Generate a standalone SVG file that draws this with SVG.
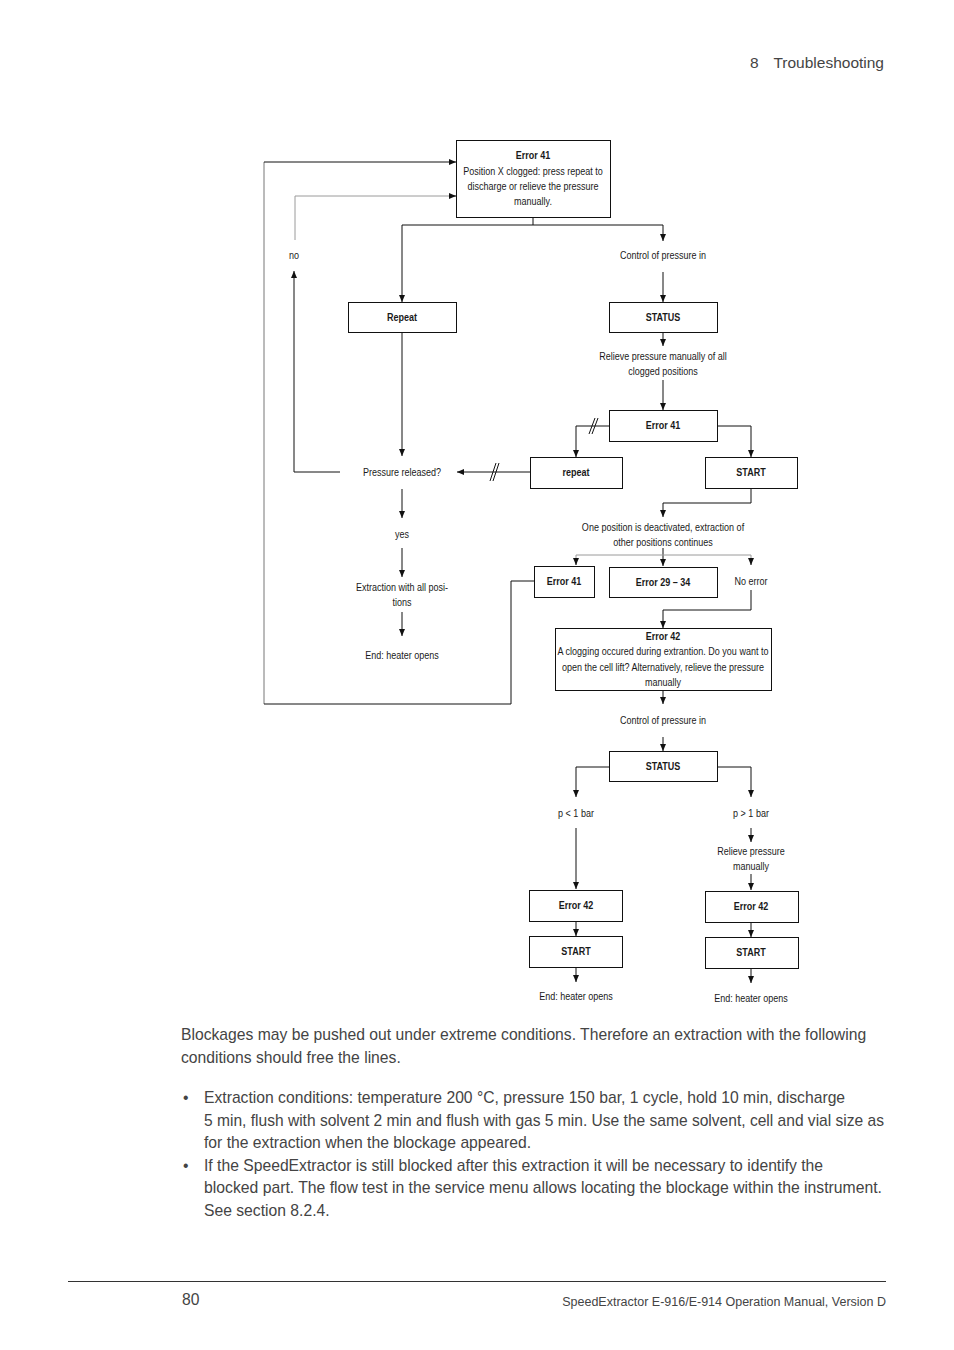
<svg xmlns="http://www.w3.org/2000/svg" width="954" height="1350" viewBox="0 0 954 1350">
<style>
.d{font-family:"Liberation Sans",Arial,sans-serif;font-size:11px;fill:#1a1a1a;text-anchor:middle}
.b{font-weight:bold}
.box{fill:#fff;stroke:#111;stroke-width:1}
.ln{fill:none;stroke:#111;stroke-width:1}
.gl{fill:none;stroke:#9a9a9a;stroke-width:1}
.og{fill:none;stroke:#777;stroke-width:1}
.ar{marker-end:url(#ah)}
.p{font-family:"Liberation Sans",Arial,sans-serif;font-size:15.7px;fill:#444}
</style>
<defs>
<marker id="ah" markerUnits="userSpaceOnUse" markerWidth="8" markerHeight="6" refX="7" refY="3" orient="auto">
<path d="M0,0 L7,3 L0,6 z" fill="#111"/>
</marker>
</defs>
<rect width="954" height="1350" fill="#fff"/>

<text class="p" x="750" y="68" style="font-size:15.5px">8</text>
<text class="p" x="884" y="68" text-anchor="end" style="font-size:15.5px">Troubleshooting</text>

<g id="connectors">
<path class="ln" d="M533,217 V225 M402,225 H663"/>
<path class="ln ar" d="M402,225 V302"/>
<path class="ln ar" d="M663,225 V241"/>
<path class="ln ar" d="M663,272 V302"/>
<path class="ln ar" d="M663,332 V346"/>
<path class="ln ar" d="M663,380 V410"/>
<path class="ln ar" d="M609,426 H576 V457"/>
<path class="ln" d="M589,434 L595,418 M592,434 L598,418"/>
<path class="ln ar" d="M717,426 H751 V457"/>
<path class="ln ar" d="M530,472 H457"/>
<path class="ln" d="M490,481 L496,463 M493,481 L499,463"/>
<path class="ln ar" d="M402,332 V456"/>
<path class="ln ar" d="M340,472 H294 V271"/>
<path class="gl" d="M295,240 V196 H450"/>
<path class="ln ar" d="M449,196 H456"/>
<path class="og" d="M264,162 V704"/>
<path class="ln ar" d="M264,162 H456"/>
<path class="ln" d="M264,704 H511 V581 H534"/>
<path class="ln ar" d="M402,489 V518"/>
<path class="ln ar" d="M402,548 V577"/>
<path class="ln ar" d="M402,612 V636"/>
<path class="ln ar" d="M751,488 V503 H663 V517"/>
<path class="ln ar" d="M663,548 V566"/>
<path class="gl" d="M576,560 V555 H751 V560"/>
<path class="ln ar" d="M576,558 V565"/>
<path class="ln ar" d="M751,558 V565"/>
<path class="ln ar" d="M751,590 V610 H663 V628"/>
<path class="ln ar" d="M663,690 V704"/>
<path class="ln ar" d="M663,737 V751"/>
<path class="ln ar" d="M609,767 H576 V797"/>
<path class="ln ar" d="M717,767 H751 V797"/>
<path class="ln ar" d="M576,828 V889"/>
<path class="ln ar" d="M576,922 V936"/>
<path class="ln ar" d="M576,967 V982"/>
<path class="ln ar" d="M751,828 V842"/>
<path class="ln ar" d="M751,874 V890"/>
<path class="ln ar" d="M751,923 V937"/>
<path class="ln ar" d="M751,969 V983"/>
</g>

<g id="n-error41-top">
<rect class="box" x="456.5" y="140.5" width="154" height="77"/>
<text class="d b" transform="translate(533,159) scale(.82,1)">Error 41</text>
<text class="d" transform="translate(533,175) scale(.82,1)">Position X clogged: press repeat to</text>
<text class="d" transform="translate(533,190) scale(.82,1)">discharge or relieve the pressure</text>
<text class="d" transform="translate(533,205) scale(.82,1)">manually.</text>
</g>
<g id="n-no"><text class="d" transform="translate(294,259) scale(.82,1)">no</text></g>
<g id="n-control1"><text class="d" transform="translate(663,259) scale(.82,1)">Control of pressure in</text></g>
<g id="n-repeat"><rect class="box" x="348.5" y="302.5" width="108" height="30"/><text class="d b" transform="translate(402,321) scale(.82,1)">Repeat</text></g>
<g id="n-status1"><rect class="box" x="609.5" y="302.5" width="108" height="30"/><text class="d b" transform="translate(663,321) scale(.82,1)">STATUS</text></g>
<g id="n-relieve1"><text class="d" transform="translate(663,360) scale(.82,1)">Relieve pressure manually of all</text><text class="d" transform="translate(663,375) scale(.82,1)">clogged positions</text></g>
<g id="n-error41-mid"><rect class="box" x="609.5" y="410.5" width="108" height="31"/><text class="d b" transform="translate(663,429) scale(.82,1)">Error 41</text></g>
<g id="n-repeat2"><rect class="box" x="530.5" y="457.5" width="92" height="31"/><text class="d b" transform="translate(576,476) scale(.82,1)">repeat</text></g>
<g id="n-start1"><rect class="box" x="705.5" y="457.5" width="92" height="31"/><text class="d b" transform="translate(751,476) scale(.82,1)">START</text></g>
<g id="n-released"><text class="d" transform="translate(402,476) scale(.82,1)">Pressure released?</text></g>
<g id="n-yes"><text class="d" transform="translate(402,538) scale(.82,1)">yes</text></g>
<g id="n-extraction"><text class="d" transform="translate(402,591) scale(.82,1)">Extraction with all posi-</text><text class="d" transform="translate(402,606) scale(.82,1)">tions</text></g>
<g id="n-end1"><text class="d" transform="translate(402,659) scale(.82,1)">End: heater opens</text></g>
<g id="n-deactivated"><text class="d" transform="translate(663,531) scale(.82,1)">One position is deactivated, extraction of</text><text class="d" transform="translate(663,546) scale(.82,1)">other positions continues</text></g>
<g id="n-error41-low"><rect class="box" x="534.5" y="566.5" width="60" height="31"/><text class="d b" transform="translate(564,585) scale(.82,1)">Error 41</text></g>
<g id="n-error2934"><rect class="box" x="609.5" y="567.5" width="108" height="30"/><text class="d b" transform="translate(663,586) scale(.82,1)">Error 29 – 34</text></g>
<g id="n-noerror"><text class="d" transform="translate(751,585) scale(.82,1)">No error</text></g>
<g id="n-error42"><rect class="box" x="555.5" y="628.5" width="216" height="62"/>
<text class="d b" transform="translate(663,640) scale(.82,1)">Error 42</text>
<text class="d" transform="translate(663,655) scale(.82,1)">A clogging occured during extrantion. Do you want to</text>
<text class="d" transform="translate(663,671) scale(.82,1)">open the cell lift? Alternatively, relieve the pressure</text>
<text class="d" transform="translate(663,686) scale(.82,1)">manually</text></g>
<g id="n-control2"><text class="d" transform="translate(663,724) scale(.82,1)">Control of pressure in</text></g>
<g id="n-status2"><rect class="box" x="609.5" y="751.5" width="108" height="30"/><text class="d b" transform="translate(663,770) scale(.82,1)">STATUS</text></g>
<g id="n-plow"><text class="d" transform="translate(576,817) scale(.82,1)">p &lt; 1 bar</text></g>
<g id="n-phigh"><text class="d" transform="translate(751,817) scale(.82,1)">p &gt; 1 bar</text></g>
<g id="n-relieve2"><text class="d" transform="translate(751,855) scale(.82,1)">Relieve pressure</text><text class="d" transform="translate(751,870) scale(.82,1)">manually</text></g>
<g id="n-error42-l"><rect class="box" x="529.5" y="890.5" width="93" height="31"/><text class="d b" transform="translate(576,909) scale(.82,1)">Error 42</text></g>
<g id="n-start-l"><rect class="box" x="529.5" y="936.5" width="93" height="31"/><text class="d b" transform="translate(576,955) scale(.82,1)">START</text></g>
<g id="n-end-l"><text class="d" transform="translate(576,1000) scale(.82,1)">End: heater opens</text></g>
<g id="n-error42-r"><rect class="box" x="705.5" y="891.5" width="93" height="31"/><text class="d b" transform="translate(751,910) scale(.82,1)">Error 42</text></g>
<g id="n-start-r"><rect class="box" x="705.5" y="937.5" width="93" height="31"/><text class="d b" transform="translate(751,956) scale(.82,1)">START</text></g>
<g id="n-end-r"><text class="d" transform="translate(751,1002) scale(.82,1)">End: heater opens</text></g>

<text class="p" x="181" y="1040">Blockages may be pushed out under extreme conditions. Therefore an extraction with the following</text>
<text class="p" x="181" y="1063">conditions should free the lines.</text>
<text class="p" x="183" y="1103">•</text>
<text class="p" x="204" y="1103">Extraction conditions: temperature 200 °C, pressure 150 bar, 1 cycle, hold 10 min, discharge</text>
<text class="p" x="204" y="1126" textLength="680" lengthAdjust="spacingAndGlyphs">5 min, flush with solvent 2 min and flush with gas 5 min. Use the same solvent, cell and vial size as</text>
<text class="p" x="204" y="1148">for the extraction when the blockage appeared.</text>
<text class="p" x="183" y="1171">•</text>
<text class="p" x="204" y="1171">If the SpeedExtractor is still blocked after this extraction it will be necessary to identify the</text>
<text class="p" x="204" y="1193" textLength="678" lengthAdjust="spacingAndGlyphs">blocked part. The flow test in the service menu allows locating the blockage within the instrument.</text>
<text class="p" x="204" y="1216">See section 8.2.4.</text>

<line x1="68" y1="1281.5" x2="886" y2="1281.5" stroke="#333" stroke-width="1"/>
<text class="p" x="182" y="1305">80</text>
<text class="p" x="886" y="1306" text-anchor="end" style="font-size:12.5px">SpeedExtractor E-916/E-914 Operation Manual, Version D</text>
</svg>
